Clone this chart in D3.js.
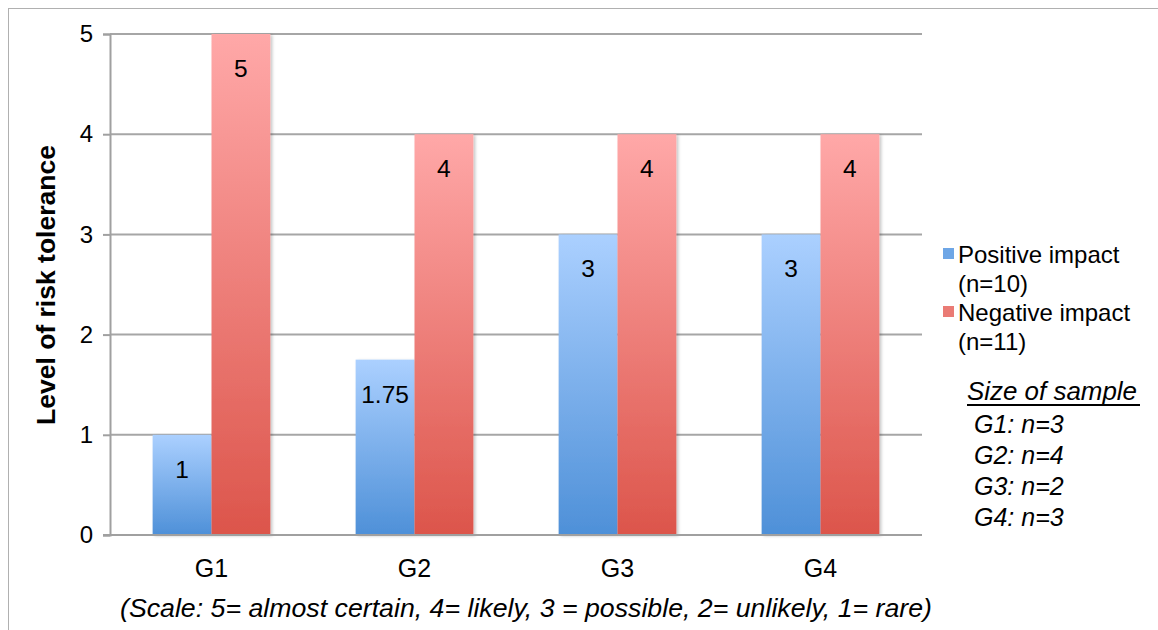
<!DOCTYPE html>
<html>
<head>
<meta charset="utf-8">
<script src="https://cdn.jsdelivr.net/npm/d3@7"></script>
<style>
  html, body { margin: 0; padding: 0; background: #fff; }
  svg { display: block; font-family: "Liberation Sans", Arial, sans-serif; }
</style>
</head>
<body>
<svg id="chart" width="1158" height="630"></svg>
<script>
// Risk tolerance per group, positive vs negative impact
const groups = ["G1", "G2", "G3", "G4"];
const positiveImpact = [1, 1.75, 3, 3];
const negativeImpact = [5, 4, 4, 4];
const yTicks = [0, 1, 2, 3, 4, 5];
const seriesNames = ["Positive impact\n(n=10)", "Negative impact\n(n=11)"];
const sampleTitle = "Size of sample";
const sampleSizes = ["G1: n=3", "G2: n=4", "G3: n=2", "G4: n=3"];
const scaleNote = "(Scale: 5= almost certain, 4= likely, 3 = possible, 2= unlikely, 1= rare)";
const yTitle = "Level of risk tolerance";

const FONT = "Liberation Sans, Arial, sans-serif";
const svg = d3.select("#chart");
const margin = { left: 110, right: 922, top: 34, bottom: 535 };

// outer frame lines
svg.append("line").attr("x1", 8).attr("x2", 1158).attr("y1", 8.5).attr("y2", 8.5)
  .attr("stroke", "#b0b0b0").attr("stroke-width", 1);
svg.append("line").attr("x1", 8.5).attr("x2", 8.5).attr("y1", 8).attr("y2", 630)
  .attr("stroke", "#b0b0b0").attr("stroke-width", 1);

const x = d3.scaleBand().domain(groups).range([margin.left, margin.right])
  .paddingInner(0.42).paddingOuter(0.21);
const xs = d3.scaleBand().domain([0, 1]).range([0, x.bandwidth()]);
const y = d3.scaleLinear().domain([0, 5]).range([margin.bottom, margin.top]);

const defs = svg.append("defs");
function grad(id, top, bottom) {
  const g = defs.append("linearGradient").attr("id", id)
    .attr("x1", 0).attr("y1", 0).attr("x2", 0).attr("y2", 1);
  g.append("stop").attr("offset", "0%").attr("stop-color", top);
  g.append("stop").attr("offset", "100%").attr("stop-color", bottom);
}
grad("gPos", "#abd0ff", "#4e90d8");
grad("gNeg", "#ffa8a8", "#dc554b");
const shadow = defs.append("filter").attr("id", "shadow")
  .attr("x", "-10%").attr("y", "-5%").attr("width", "130%").attr("height", "110%");
shadow.append("feDropShadow").attr("dx", 2).attr("dy", 1).attr("stdDeviation", 1.5)
  .attr("flood-color", "#000").attr("flood-opacity", 0.22);

// gridlines
svg.append("g")
  .selectAll("line").data(yTicks.filter(d => d > 0)).join("line")
  .attr("x1", margin.left).attr("x2", margin.right)
  .attr("y1", d => y(d)).attr("y2", d => y(d))
  .attr("stroke", "#a6a6a6").attr("stroke-width", 2);

// y axis
const yAxis = svg.append("g").attr("transform", `translate(${margin.left},0)`)
  .call(d3.axisLeft(y).tickValues(yTicks).tickSize(7).tickPadding(10).tickFormat(d3.format("d")));
yAxis.select(".domain").attr("stroke", "#a0a0a0").attr("stroke-width", 2);
yAxis.selectAll(".tick line").attr("stroke", "#a0a0a0").attr("stroke-width", 2);
yAxis.selectAll("text").attr("font-size", 24).attr("fill", "#000").attr("font-family", FONT);

// bars
const rows = groups.map((g, i) => ({ g, vals: [positiveImpact[i], negativeImpact[i]] }));
const bars = svg.append("g");
rows.forEach(r => {
  r.vals.forEach((v, k) => {
    const bx = x(r.g) + xs(k);
    const bw = xs.bandwidth();
    bars.append("rect")
      .attr("x", bx).attr("y", y(v)).attr("width", bw).attr("height", y(0) - y(v))
      .attr("fill", k === 0 ? "url(#gPos)" : "url(#gNeg)")
      .attr("filter", "url(#shadow)");
    bars.append("text")
      .attr("x", bx + bw / 2).attr("y", y(v) + 43)
      .attr("text-anchor", "middle").attr("font-size", 24.5).attr("fill", "#000")
      .text(d3.format("~g")(v));
  });
});

// x axis
const xAxis = svg.append("g").attr("transform", `translate(0,${margin.bottom})`)
  .call(d3.axisBottom(x).tickSize(0).tickPadding(24));
xAxis.select(".domain").remove();
svg.append("line").attr("x1", margin.left - 7).attr("x2", margin.right)
  .attr("y1", margin.bottom).attr("y2", margin.bottom)
  .attr("stroke", "#a0a0a0").attr("stroke-width", 2);
xAxis.selectAll("text").attr("font-size", 25).attr("fill", "#000").attr("font-family", FONT);

// y title
svg.append("text")
  .attr("transform", `translate(55,285) rotate(-90)`)
  .attr("text-anchor", "middle").attr("font-size", 25).attr("font-weight", "bold")
  .attr("textLength", 280).attr("lengthAdjust", "spacingAndGlyphs")
  .text(yTitle);

// scale note
svg.append("text").attr("x", 526).attr("y", 617)
  .attr("text-anchor", "middle").attr("font-size", 25).attr("font-style", "italic")
  .attr("textLength", 812).attr("lengthAdjust", "spacingAndGlyphs")
  .text(scaleNote);

// legend
const legend = svg.append("g");
seriesNames.forEach((s, i) => {
  const ly = 263 + i * 58;
  legend.append("rect").attr("x", 943).attr("y", ly - 15).attr("width", 11).attr("height", 11)
    .attr("fill", i === 0 ? "#6ea6e6" : "#ea7b75");
  s.split("\n").forEach((line, j) => {
    legend.append("text").attr("x", 958).attr("y", ly + j * 29)
      .attr("font-size", 24).text(line);
  });
});

// sample sizes
const st = legend.append("text").attr("x", 967).attr("y", 400)
  .attr("font-size", 25).attr("font-style", "italic")
  .attr("textLength", 170).attr("lengthAdjust", "spacingAndGlyphs").text(sampleTitle);
legend.append("line").attr("x1", 967).attr("x2", 1140)
  .attr("y1", 405).attr("y2", 405).attr("stroke", "#000").attr("stroke-width", 2);
sampleSizes.forEach((s, i) => {
  legend.append("text").attr("x", 974).attr("y", 433 + i * 31)
    .attr("font-size", 25).attr("font-style", "italic").text(s);
});
</script>
</body>
</html>
